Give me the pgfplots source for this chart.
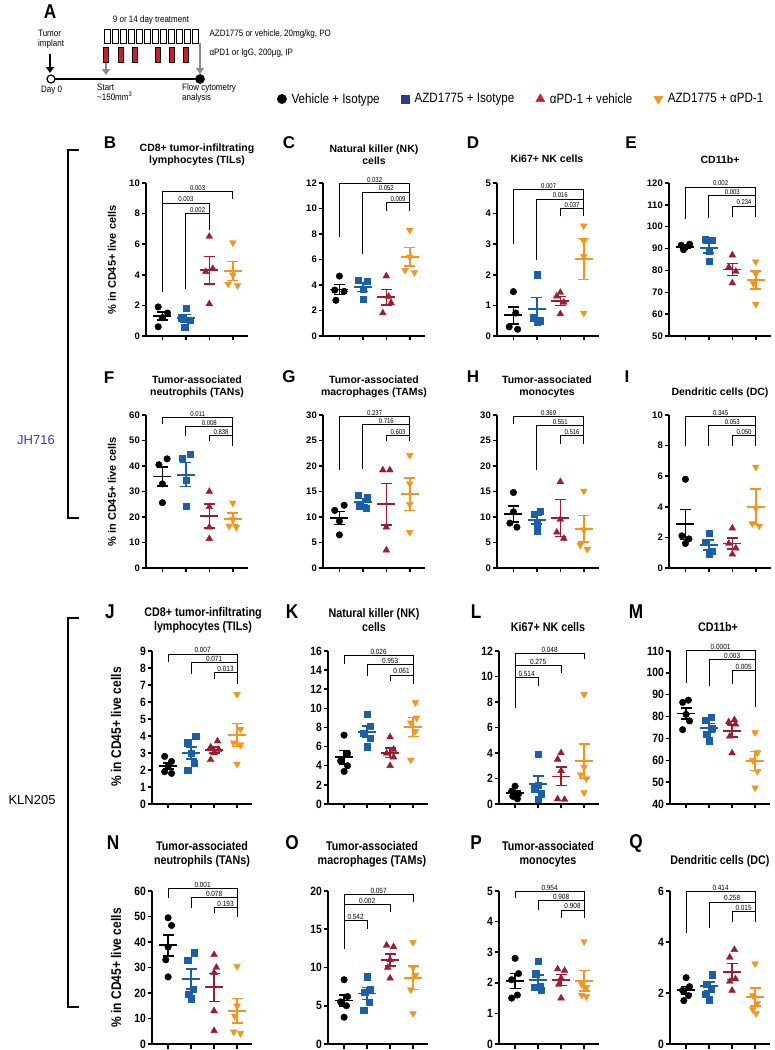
\documentclass[border=0pt]{standalone}
\usepackage{fontspec}
\setmainfont{Liberation Sans}
\newfontfamily\narrowfont[FakeStretch=0.86]{Liberation Sans}
\usepackage{pgfplots}
\pgfplotsset{compat=1.18}
\usetikzlibrary{arrows.meta}

\definecolor{cblu}{HTML}{1B5FA8}
\definecolor{cred}{HTML}{9B1D30}
\definecolor{corg}{HTML}{F6921E}
\definecolor{cnavy}{HTML}{2B3990}
\definecolor{clred}{HTML}{C8202F}
\definecolor{cgray}{HTML}{8A8A8A}
\definecolor{cjh}{HTML}{3A3AA8}

\newcommand{\brkfont}{\narrowfont\fontsize{7}{7}\selectfont}
\newcommand{\brk}[6]{%
  \draw[line width=0.75pt] (axis cs:#1,#4) -- (axis cs:#1,#3) -- (axis cs:#2,#3) -- (axis cs:#2,#5);
  \path (axis cs:#1,#3) -- node[pos=0.5, anchor=south, inner sep=0.7pt, font=\brkfont] {#6} (axis cs:#2,#3);}

\pgfplotsset{
  panel/.style={scale only axis, width=102pt, height=153pt, anchor=south west,
    xmin=0.3, xmax=4.65, xtick={1,2,3,4}, xticklabels={},
    axis x line*=bottom, axis y line*=left,
    axis line style={-, line width=1.7pt},
    tick align=outside, major tick length=4.5pt,
    tick style={line width=1.5pt, black},
    clip=false,
    /pgf/number format/assume math mode=true,
    yticklabel style={font=\bfseries\fontsize{9.5}{10}\selectfont, inner sep=1.5pt}},
  panelk/.style={panel, width=100pt,
    yticklabel style={font=\narrowfont\bfseries\fontsize{12}{12}\selectfont, inner sep=1.5pt}},
  s1/.style={only marks, mark=*, mark size=3.3pt, black, forget plot},
  s2/.style={only marks, mark=square*, mark size=3.1pt, cblu, forget plot},
  s3/.style={only marks, mark=triangle*, mark size=3.9pt, cred, forget plot},
  s4/.style={only marks, mark=triangle*, mark size=3.9pt, corg, mark options={rotate=180}, forget plot},
  ms/.style={#1, only marks, mark=-, mark size=9pt, mark options={line width=1.9pt, #1}, forget plot,
    error bars/.cd, y dir=both, y explicit,
    error bar style={line width=1.6pt, #1},
    error mark options={rotate=90, line width=1.6pt, mark size=5.5pt, #1}},
}

\begin{document}
\begin{tikzpicture}

% ---------------- overlay: panel A, letters, titles, labels ----------------
\begin{axis}[hide axis, scale only axis, width=775pt, height=1050pt, at={(0pt,0pt)}, anchor=south west,
  xmin=0, xmax=775, ymin=0, ymax=1050, y dir=reverse, clip=false]
% timeline
\addplot[black, line width=2.6pt] coordinates {(51,79) (200,79)};
\addplot[only marks, mark=*, mark size=4pt, mark options={fill=white, draw=black, line width=1.2pt}] coordinates {(51,79)};
\addplot[only marks, mark=*, mark size=4.6pt, black] coordinates {(200,79)};
\draw[line width=2.6pt, -{Triangle[length=6pt,width=8pt]}] (axis cs:50,54) -- (axis cs:50,73);
\draw[cgray, line width=2.6pt, -{Triangle[length=6pt,width=8pt]}] (axis cs:106,62) -- (axis cs:106,75);
\draw[cgray, line width=2.6pt, -{Triangle[length=6pt,width=8pt]}] (axis cs:200,43) -- (axis cs:200,74);
% treatment boxes
\draw[line width=0.6pt] (axis cs:104,29) rectangle (axis cs:110.2,43);
\draw[line width=0.6pt] (axis cs:112,29) rectangle (axis cs:118.2,43);
\draw[line width=0.6pt] (axis cs:120,29) rectangle (axis cs:126.2,43);
\draw[line width=0.6pt] (axis cs:128,29) rectangle (axis cs:134.2,43);
\draw[line width=0.6pt] (axis cs:136,29) rectangle (axis cs:142.2,43);
\draw[line width=0.6pt] (axis cs:144,29) rectangle (axis cs:150.2,43);
\draw[line width=0.6pt] (axis cs:152,29) rectangle (axis cs:158.2,43);
\draw[line width=0.6pt] (axis cs:160,29) rectangle (axis cs:166.2,43);
\draw[line width=0.6pt] (axis cs:168,29) rectangle (axis cs:174.2,43);
\draw[line width=0.6pt] (axis cs:176,29) rectangle (axis cs:182.2,43);
\draw[line width=0.6pt] (axis cs:184,29) rectangle (axis cs:190.2,43);
\draw[line width=0.6pt] (axis cs:192,29) rectangle (axis cs:198.2,43);
\draw[fill=clred, line width=0.5pt] (axis cs:103.5,47) rectangle (axis cs:108.5,62);
\draw[fill=clred, line width=0.5pt] (axis cs:118.5,47) rectangle (axis cs:123.5,62);
\draw[fill=clred, line width=0.5pt] (axis cs:132.5,47) rectangle (axis cs:137.5,62);
\draw[fill=clred, line width=0.5pt] (axis cs:155,47) rectangle (axis cs:160,62);
\draw[fill=clred, line width=0.5pt] (axis cs:169,47) rectangle (axis cs:174,62);
\draw[fill=clred, line width=0.5pt] (axis cs:183.5,47) rectangle (axis cs:188.5,62);
% panel A text
\node[font=\narrowfont\bfseries\fontsize{20}{20}\selectfont] at (axis cs:50,12) {A};
\node[font=\narrowfont\fontsize{9.3}{10}\selectfont] at (axis cs:151,20) {9 or 14 day treatment};
\node[font=\narrowfont\fontsize{9.3}{10}\selectfont, anchor=west] at (axis cs:206,34) {AZD1775 or vehicle, 20mg/kg, PO};
\node[font=\narrowfont\fontsize{9.3}{10}\selectfont, anchor=west] at (axis cs:206,53) {αPD1 or IgG, 200μg, IP};
\node[font=\narrowfont\fontsize{9.3}{10}\selectfont, anchor=north west, align=left, inner sep=0pt] at (axis cs:38,30) {Tumor\\implant};
\node[font=\narrowfont\fontsize{9.3}{10}\selectfont, anchor=west, inner sep=0pt] at (axis cs:41,90) {Day 0};
\node[font=\narrowfont\fontsize{9.3}{10}\selectfont, anchor=north west, align=left, inner sep=0pt] at (axis cs:97,84) {Start\\\textasciitilde150mm\textsuperscript{3}};
\node[font=\narrowfont\fontsize{9.3}{10}\selectfont, anchor=north west, align=left, inner sep=0pt] at (axis cs:182,84) {Flow cytometry\\analysis};
% panel letters
\node[font=\bfseries\fontsize{17}{17}\selectfont] at (axis cs:110,143) {B};
\node[font=\bfseries\fontsize{17}{17}\selectfont] at (axis cs:289,143) {C};
\node[font=\bfseries\fontsize{17}{17}\selectfont] at (axis cs:473,143) {D};
\node[font=\bfseries\fontsize{17}{17}\selectfont] at (axis cs:631,143) {E};
\node[font=\bfseries\fontsize{17}{17}\selectfont] at (axis cs:109,378) {F};
\node[font=\bfseries\fontsize{17}{17}\selectfont] at (axis cs:289,377) {G};
\node[font=\bfseries\fontsize{17}{17}\selectfont] at (axis cs:473,377) {H};
\node[font=\bfseries\fontsize{17}{17}\selectfont] at (axis cs:627,377) {I};
\node[font=\narrowfont\bfseries\fontsize{20}{20}\selectfont] at (axis cs:110,612) {J};
\node[font=\narrowfont\bfseries\fontsize{20}{20}\selectfont] at (axis cs:292,612) {K};
\node[font=\narrowfont\bfseries\fontsize{20}{20}\selectfont] at (axis cs:476,612) {L};
\node[font=\narrowfont\bfseries\fontsize{20}{20}\selectfont] at (axis cs:636,612) {M};
\node[font=\narrowfont\bfseries\fontsize{20}{20}\selectfont] at (axis cs:113,843) {N};
\node[font=\narrowfont\bfseries\fontsize{20}{20}\selectfont] at (axis cs:292,843) {O};
\node[font=\narrowfont\bfseries\fontsize{20}{20}\selectfont] at (axis cs:476,843) {P};
\node[font=\narrowfont\bfseries\fontsize{20}{20}\selectfont] at (axis cs:636,843) {Q};
% titles rows 1-2
\node[font=\bfseries\fontsize{10.5}{12}\selectfont, align=center] at (axis cs:197,155) {CD8+ tumor-infiltrating\\lymphocytes (TILs)};
\node[font=\bfseries\fontsize{10.5}{12}\selectfont, align=center] at (axis cs:374,155) {Natural killer (NK)\\cells};
\node[font=\bfseries\fontsize{10.5}{12}\selectfont, align=center] at (axis cs:547,159) {Ki67+ NK cells};
\node[font=\bfseries\fontsize{10.5}{12}\selectfont, align=center] at (axis cs:720,160) {CD11b+};
\node[font=\bfseries\fontsize{10.5}{12}\selectfont, align=center] at (axis cs:197,387) {Tumor-associated\\neutrophils (TANs)};
\node[font=\bfseries\fontsize{10.5}{12}\selectfont, align=center] at (axis cs:374,387) {Tumor-associated\\macrophages (TAMs)};
\node[font=\bfseries\fontsize{10.5}{12}\selectfont, align=center] at (axis cs:547,387) {Tumor-associated\\monocytes};
\node[font=\bfseries\fontsize{10.5}{12}\selectfont, align=center] at (axis cs:720,393) {Dendritic cells (DC)};
% titles rows 3-4
\node[font=\narrowfont\bfseries\fontsize{12.5}{14}\selectfont, align=center] at (axis cs:203,620) {CD8+ tumor-infiltrating\\lymphocytes (TILs)};
\node[font=\narrowfont\bfseries\fontsize{12.5}{14}\selectfont, align=center] at (axis cs:374,620) {Natural killer (NK)\\cells};
\node[font=\narrowfont\bfseries\fontsize{12.5}{14}\selectfont, align=center] at (axis cs:548,627) {Ki67+ NK cells};
\node[font=\narrowfont\bfseries\fontsize{12.5}{14}\selectfont, align=center] at (axis cs:718,627) {CD11b+};
\node[font=\narrowfont\bfseries\fontsize{12.5}{14}\selectfont, align=center] at (axis cs:202,854) {Tumor-associated\\neutrophils (TANs)};
\node[font=\narrowfont\bfseries\fontsize{12.5}{14}\selectfont, align=center] at (axis cs:372,854) {Tumor-associated\\macrophages (TAMs)};
\node[font=\narrowfont\bfseries\fontsize{12.5}{14}\selectfont, align=center] at (axis cs:548,854) {Tumor-associated\\monocytes};
\node[font=\narrowfont\bfseries\fontsize{12.5}{14}\selectfont, align=center] at (axis cs:720,861) {Dendritic cells (DC)};
% y labels
\node[rotate=90, font=\bfseries\fontsize{11}{11}\selectfont] at (axis cs:112,260) {\% in CD45+ live cells};
\node[rotate=90, font=\bfseries\fontsize{11}{11}\selectfont] at (axis cs:112,492) {\% in CD45+ live cells};
\node[rotate=90, font=\narrowfont\bfseries\fontsize{14}{14}\selectfont] at (axis cs:116,727) {\% in CD45+ live cells};
\node[rotate=90, font=\narrowfont\bfseries\fontsize{14}{14}\selectfont] at (axis cs:116,968) {\% in CD45+ live cells};
% group brackets
\draw[line width=1.8pt] (axis cs:79,150) -- (axis cs:68,150) -- (axis cs:68,518) -- (axis cs:79,518);
\draw[line width=1.8pt] (axis cs:79,618) -- (axis cs:68,618) -- (axis cs:68,1007) -- (axis cs:79,1007);
\node[font=\fontsize{13}{13}\selectfont, text=cjh] at (axis cs:36,440) {JH716};
\node[font=\fontsize{13}{13}\selectfont] at (axis cs:32,800) {KLN205};
\end{axis}

% ---------------- B ----------------
\begin{axis}[panel, at={(146pt,714pt)}, ymin=0, ymax=10, ytick={0,2,...,10},
  legend columns=4,
  legend style={at={(1.255,1.549)}, anchor=west, draw=none, fill=none,
    font=\narrowfont\fontsize{13.5}{14}\selectfont,
    /tikz/every odd column/.append style={column sep=3pt},
    /tikz/every even column/.append style={column sep=19.5pt}}]
\addplot[s1] coordinates {(0.82,1.9) (1.22,1.5) (1.0,1.2) (0.82,0.6)};
\addplot[s2] coordinates {(2.0,1.8) (1.8,1.2) (2.2,1.05) (1.95,0.6)};
\addplot[s3] coordinates {(3,6.5) (3.15,4.4) (2.85,4.2) (3,2.1)};
\addplot[s4] coordinates {(4,6.1) (4,4.0) (3.8,3.4) (4.2,3.3)};
\addplot[ms=black] coordinates {(1,1.3) +- (0,0.27)};
\addplot[ms=cblu] coordinates {(2,1.15) +- (0,0.25)};
\addplot[ms=cred] coordinates {(3,4.3) +- (0,0.9)};
\addplot[ms=corg] coordinates {(4,4.25) +- (0,0.63)};
\brk{1}{4}{9.43}{2.9}{8.95}{0.003}
\brk{1}{3}{8.7}{2.9}{6.9}{0.003}
\brk{2}{3}{8.0}{3.1}{6.9}{0.002}
\addlegendimage{only marks, mark=*, mark size=4.7pt, black}
\addlegendentry{Vehicle + Isotype}
\addlegendimage{only marks, mark=square*, mark size=4.2pt, cnavy}
\addlegendentry{AZD1775 + Isotype}
\addlegendimage{only marks, mark=triangle*, mark size=5.2pt, clred}
\addlegendentry{αPD-1 + vehicle}
\addlegendimage{only marks, mark=triangle*, mark size=5.2pt, corg, mark options={rotate=180}}
\addlegendentry{AZD1775 + αPD-1}
\end{axis}

% ---------------- C ----------------
\begin{axis}[panel, at={(323pt,714pt)}, ymin=0, ymax=12, ytick={0,2,...,12}]
\addplot[s1] coordinates {(1,4.7) (0.8,3.6) (1.2,3.5) (0.85,2.8)};
\addplot[s2] coordinates {(1.8,4.4) (2.2,4.3) (2,3.7) (2,2.9)};
\addplot[s3] coordinates {(3,4.7) (3.1,3.1) (3.2,2.6) (2.85,1.8)};
\addplot[s4] coordinates {(4,8.3) (4,6.2) (3.8,5.15) (4.2,5.0)};
\addplot[ms=black] coordinates {(1,3.65) +- (0,0.4)};
\addplot[ms=cblu] coordinates {(2,3.83) +- (0,0.35)};
\addplot[ms=cred] coordinates {(3,3.05) +- (0,0.6)};
\addplot[ms=corg] coordinates {(4,6.22) +- (0,0.73)};
\brk{1}{4}{12.0}{7.75}{9.8}{0.032}
\brk{2}{4}{11.3}{6.45}{9.8}{0.052}
\brk{3}{4}{10.5}{9.8}{9.8}{0.009}
\end{axis}

% ---------------- D ----------------
\begin{axis}[panel, at={(497pt,714pt)}, ymin=0, ymax=5, ytick={0,1,...,5}]
\addplot[s1] coordinates {(1,1.45) (1.1,0.75) (0.82,0.3) (1.18,0.22)};
\addplot[s2] coordinates {(2,2.0) (1.85,0.6) (2.15,0.5) (2,0.45)};
\addplot[s3] coordinates {(3,1.42) (2.85,1.3) (3.15,1.1) (3,0.72)};
\addplot[s4] coordinates {(4,3.6) (4,3.1) (4,2.6) (4,0.75)};
\addplot[ms=black] coordinates {(1,0.675) +- (0,0.28)};
\addplot[ms=cblu] coordinates {(2,0.89) +- (0,0.37)};
\addplot[ms=cred] coordinates {(3,1.14) +- (0,0.15)};
\addplot[ms=corg] coordinates {(4,2.51) +- (0,0.67)};
\brk{1}{4}{4.78}{3.0}{3.91}{0.007}
\brk{2}{4}{4.48}{2.48}{3.91}{0.016}
\brk{3}{4}{4.18}{3.91}{3.91}{0.037}
\end{axis}

% ---------------- E ----------------
\begin{axis}[panel, at={(669pt,714pt)}, ymin=50, ymax=120, ytick={50,60,...,120}]
\addplot[s1] coordinates {(0.82,91.5) (1.0,90.5) (1.18,92) (0.92,89.5)};
\addplot[s2] coordinates {(1.85,94.2) (2.15,94.0) (2,89) (2,84.2)};
\addplot[s3] coordinates {(3,87) (2.85,81.5) (3.15,79.5) (3,74.2)};
\addplot[s4] coordinates {(4,84) (4,78.5) (3.9,74) (4,64.6)};
\addplot[ms=black] coordinates {(1,90.8) +- (0,0.5)};
\addplot[ms=cblu] coordinates {(2,90.25) +- (0,2.4)};
\addplot[ms=cred] coordinates {(3,80.4) +- (0,2.7)};
\addplot[ms=corg] coordinates {(4,75.5) +- (0,4.1)};
\brk{1}{4}{118.2}{103.4}{104.6}{0.002}
\brk{2}{4}{114.2}{103.8}{104.6}{0.003}
\brk{3}{4}{109.5}{104.6}{104.6}{0.234}
\end{axis}

% ---------------- F ----------------
\begin{axis}[panel, at={(146pt,482pt)}, ymin=0, ymax=60, ytick={0,10,...,60}]
\addplot[s1] coordinates {(0.85,40.5) (1.2,42.8) (1,33) (1,25.6)};
\addplot[s2] coordinates {(1.85,43) (2.2,44.6) (2,34.5) (2,24.2)};
\addplot[s3] coordinates {(3,30) (3,24) (3,16) (3,11.5)};
\addplot[s4] coordinates {(4,25.5) (4,19) (3.85,16.5) (4.15,16)};
\addplot[ms=black] coordinates {(1,35.9) +- (0,3.8)};
\addplot[ms=cblu] coordinates {(2,36.6) +- (0,4.7)};
\addplot[ms=cred] coordinates {(3,20.45) +- (0,4.75)};
\addplot[ms=corg] coordinates {(4,19.25) +- (0,2.2)};
\brk{1}{4}{59.0}{56.3}{48.0}{0.011}
\brk{2}{4}{55.6}{51.6}{48.0}{0.008}
\brk{3}{4}{51.9}{49.8}{48.0}{0.838}
\end{axis}

% ---------------- G ----------------
\begin{axis}[panel, at={(323pt,482pt)}, ymin=0, ymax=30, ytick={0,5,...,30}]
\addplot[s1] coordinates {(0.8,11.3) (1.2,12.3) (1,9.2) (1,6.5)};
\addplot[s2] coordinates {(1.8,14.2) (2.2,13.8) (1.85,12.2) (2.15,11.7)};
\addplot[s3] coordinates {(2.85,19.2) (3.15,19.2) (3,8.0) (3,3.5)};
\addplot[s4] coordinates {(4,22.1) (4,16.5) (4,12.5) (4,7.0)};
\addplot[ms=black] coordinates {(1,9.8) +- (0,1.27)};
\addplot[ms=cblu] coordinates {(2,13.0) +- (0,0.6)};
\addplot[ms=cred] coordinates {(3,12.5) +- (0,4.1)};
\addplot[ms=corg] coordinates {(4,14.5) +- (0,3.2)};
\brk{1}{4}{29.8}{19.3}{24.9}{0.237}
\brk{2}{4}{28.1}{19.5}{24.9}{0.716}
\brk{3}{4}{26.0}{24.9}{24.9}{0.603}
\end{axis}

% ---------------- H ----------------
\begin{axis}[panel, at={(497pt,482pt)}, ymin=0, ymax=30, ytick={0,5,...,30}]
\addplot[s1] coordinates {(1,14.8) (1,11) (0.85,8.8) (1.15,8.0)};
\addplot[s2] coordinates {(2.15,11.2) (1.9,10.5) (2,8.8) (2,7.3)};
\addplot[s3] coordinates {(3,16.9) (3,9.5) (2.85,7.0) (3.15,5.8)};
\addplot[s4] coordinates {(4,15.1) (4,7.5) (3.85,4.5) (4.15,3.7)};
\addplot[ms=black] coordinates {(1,10.6) +- (0,1.6)};
\addplot[ms=cblu] coordinates {(2,9.45) +- (0,0.87)};
\addplot[ms=cred] coordinates {(3,9.8) +- (0,3.6)};
\addplot[ms=corg] coordinates {(4,7.7) +- (0,2.6)};
\brk{1}{4}{29.7}{28.2}{24.4}{0.369}
\brk{2}{4}{28.0}{19.3}{24.4}{0.551}
\brk{3}{4}{26.0}{24.4}{24.4}{0.516}
\end{axis}

% ---------------- I ----------------
\begin{axis}[panel, at={(669pt,482pt)}, ymin=0, ymax=10, ytick={0,2,...,10}]
\addplot[s1] coordinates {(1,5.8) (0.85,2.1) (1.15,1.9) (1,1.6)};
\addplot[s2] coordinates {(2,2.3) (1.85,1.7) (2.15,1.1) (2,0.9)};
\addplot[s3] coordinates {(3,2.6) (2.85,1.6) (3.15,1.3) (3,0.9)};
\addplot[s4] coordinates {(4,6.6) (4,3.9) (3.85,2.9) (4.15,2.75)};
\addplot[ms=black] coordinates {(1,2.85) +- (0,0.98)};
\addplot[ms=cblu] coordinates {(2,1.5) +- (0,0.32)};
\addplot[ms=cred] coordinates {(3,1.6) +- (0,0.36)};
\addplot[ms=corg] coordinates {(4,4.0) +- (0,1.15)};
\brk{1}{4}{9.9}{7.95}{8.0}{0.345}
\brk{2}{4}{9.3}{8.0}{8.0}{0.053}
\brk{3}{4}{8.65}{8.0}{8.0}{0.050}
\end{axis}

\renewcommand{\brkfont}{\narrowfont\fontsize{7.5}{7.5}\selectfont}

% ---------------- J ----------------
\begin{axis}[panelk, at={(152pt,246pt)}, ymin=0, ymax=9, ytick={0,1,...,9}]
\addplot[s1] coordinates {(0.85,2.8) (1.15,2.5) (1,2.2) (0.85,1.9) (1.15,1.8)};
\addplot[s2] coordinates {(2.2,4.0) (1.85,3.6) (2,3.0) (2.15,2.4) (1.85,2.0)};
\addplot[s3] coordinates {(3.15,3.7) (2.85,3.35) (3.2,3.2) (3,3.0) (2.85,2.6)};
\addplot[s4] coordinates {(4,6.45) (4.15,4.4) (3.85,3.6) (4.15,3.5) (4,2.35)};
\addplot[ms=black] coordinates {(1,2.24) +- (0,0.18)};
\addplot[ms=cblu] coordinates {(2,3.0) +- (0,0.37)};
\addplot[ms=cred] coordinates {(3,3.17) +- (0,0.18)};
\addplot[ms=corg] coordinates {(4,4.06) +- (0,0.68)};
\brk{1}{4}{8.83}{8.35}{7.05}{0.007}
\brk{2}{4}{8.31}{7.67}{7.05}{0.071}
\brk{3}{4}{7.73}{7.38}{7.05}{0.013}
\end{axis}

% ---------------- K ----------------
\begin{axis}[panelk, at={(328pt,246pt)}, ymin=0, ymax=16, ytick={0,2,...,16}]
\addplot[s1] coordinates {(1,7.2) (1.15,5.3) (0.85,4.5) (1.15,4.0) (1,3.4)};
\addplot[s2] coordinates {(2,9.4) (2.15,8.1) (1.85,7.4) (2.15,6.9) (2,6.0)};
\addplot[s3] coordinates {(3,7.0) (3.15,5.7) (2.85,5.3) (3.15,4.9) (3,4.0)};
\addplot[s4] coordinates {(4.1,10.6) (4.15,9.0) (3.9,8.5) (4.1,7.6) (3.9,4.6)};
\addplot[ms=black] coordinates {(1,4.88) +- (0,0.7)};
\addplot[ms=cblu] coordinates {(2,7.56) +- (0,0.57)};
\addplot[ms=cred] coordinates {(3,5.38) +- (0,0.5)};
\addplot[ms=corg] coordinates {(4,8.06) +- (0,1.0)};
\brk{1}{4}{15.5}{14.65}{12.5}{0.026}
\brk{2}{4}{14.55}{13.4}{12.5}{0.953}
\brk{3}{4}{13.5}{12.9}{12.5}{0.061}
\end{axis}

% ---------------- L ----------------
\begin{axis}[panelk, at={(499pt,246pt)}, ymin=0, ymax=12, ytick={0,2,...,12}]
\addplot[s1] coordinates {(1,1.4) (0.85,1.0) (1.15,0.8) (0.9,0.6) (1.1,0.4)};
\addplot[s2] coordinates {(2,3.9) (2,1.5) (1.85,1.2) (2.15,0.8) (2,0.4)};
\addplot[s3] coordinates {(3,4.0) (2.85,3.5) (3,2.6) (2.85,0.4) (3.15,0.35)};
\addplot[s4] coordinates {(4,8.6) (4,2.9) (3.85,2.3) (4.1,2.0) (4,0.9)};
\addplot[ms=black] coordinates {(1,0.84) +- (0,0.17)};
\addplot[ms=cblu] coordinates {(2,1.56) +- (0,0.62)};
\addplot[ms=cred] coordinates {(3,2.16) +- (0,0.72)};
\addplot[ms=corg] coordinates {(4,3.34) +- (0,1.35)};
\brk{1}{4}{11.8}{7.5}{11.4}{0.048}
\brk{1}{3}{10.9}{7.5}{10.3}{0.275}
\brk{1}{2}{9.9}{7.5}{9.25}{0.514}
\end{axis}

% ---------------- M ----------------
\begin{axis}[panelk, at={(670pt,246pt)}, ymin=40, ymax=110, ytick={40,50,...,110}]
\addplot[s1] coordinates {(1.1,87.5) (0.85,86.5) (1,81) (1.15,78) (0.85,74)};
\addplot[s2] coordinates {(2.1,79.8) (1.85,78.5) (2.15,74.5) (1.9,72) (2,69)};
\addplot[s3] coordinates {(3.1,78.5) (2.85,77.5) (3.15,76.5) (2.9,71) (3,63.3)};
\addplot[s4] coordinates {(4,72.7) (4.1,63.5) (3.9,60) (4.1,55) (4,47.4)};
\addplot[ms=black] coordinates {(1,81.4) +- (0,2.5)};
\addplot[ms=cblu] coordinates {(2,74.76) +- (0,2.0)};
\addplot[ms=cred] coordinates {(3,73.36) +- (0,2.8)};
\addplot[ms=corg] coordinates {(4,59.7) +- (0,4.3)};
\brk{1}{4}{110.3}{95.4}{84.5}{0.0001}
\brk{2}{4}{106.1}{93.9}{84.5}{0.003}
\brk{3}{4}{101.2}{94.8}{84.5}{0.005}
\end{axis}

% ---------------- N ----------------
\begin{axis}[panelk, at={(152pt,6pt)}, ymin=0, ymax=60, ytick={0,10,...,60}]
\addplot[s1] coordinates {(1,49.5) (1.15,46.5) (1,38) (0.9,33) (1,26.3)};
\addplot[s2] coordinates {(2.15,35.8) (1.85,33.0) (2.1,21.5) (1.9,19.5) (2,17.8)};
\addplot[s3] coordinates {(3,35) (3.1,30) (3,28) (3,13) (3,5.2)};
\addplot[s4] coordinates {(4,30.5) (4,15) (3.9,11) (3.85,4.8) (4.15,4.2)};
\addplot[ms=black] coordinates {(1,38.66) +- (0,4.2)};
\addplot[ms=cblu] coordinates {(2,25.5) +- (0,3.9)};
\addplot[ms=cred] coordinates {(3,22.2) +- (0,5.5)};
\addplot[ms=corg] coordinates {(4,13.1) +- (0,4.8)};
\brk{1}{4}{61.1}{57.4}{49.9}{0.001}
\brk{2}{4}{57.4}{53.2}{49.9}{0.078}
\brk{3}{4}{53.7}{51.2}{49.9}{0.193}
\end{axis}

% ---------------- O ----------------
\begin{axis}[panelk, at={(328pt,6pt)}, ymin=0, ymax=20, ytick={0,5,...,20}]
\addplot[s1] coordinates {(1,8.4) (1.15,6.2) (0.85,5.5) (1.1,5.0) (1,3.5)};
\addplot[s2] coordinates {(2,8.8) (2.15,7.2) (1.9,6.8) (2.1,5.5) (1.85,4.4)};
\addplot[s3] coordinates {(2.85,12.9) (3.15,12.7) (3,11.0) (2.9,10.0) (3,8.6)};
\addplot[s4] coordinates {(4,13.3) (4,10.0) (4.1,9.0) (3.9,7.1) (4,4.0)};
\addplot[ms=black] coordinates {(1,5.68) +- (0,0.75)};
\addplot[ms=cblu] coordinates {(2,6.6) +- (0,0.76)};
\addplot[ms=cred] coordinates {(3,11.0) +- (0,0.77)};
\addplot[ms=corg] coordinates {(4,8.68) +- (0,1.55)};
\brk{1}{4}{19.6}{12.45}{18.5}{0.057}
\brk{1}{3}{18.2}{12.45}{17.2}{0.002}
\brk{1}{2}{16.2}{12.45}{15.0}{0.542}
\end{axis}

% ---------------- P ----------------
\begin{axis}[panelk, at={(499pt,6pt)}, ymin=0, ymax=5, ytick={0,1,...,5}]
\addplot[s1] coordinates {(1,2.8) (1.15,2.3) (0.85,2.1) (1.1,1.6) (0.85,1.5)};
\addplot[s2] coordinates {(2,2.7) (1.9,2.3) (2.1,1.9) (1.85,1.85) (2.15,1.75)};
\addplot[s3] coordinates {(2.85,2.45) (3.15,2.4) (3,2.15) (2.9,1.95) (3,1.5)};
\addplot[s4] coordinates {(4,3.35) (3.9,1.95) (4.1,1.85) (3.9,1.6) (4.1,1.55)};
\addplot[ms=black] coordinates {(1,2.06) +- (0,0.24)};
\addplot[ms=cblu] coordinates {(2,2.08) +- (0,0.17)};
\addplot[ms=cred] coordinates {(3,2.09) +- (0,0.18)};
\addplot[ms=corg] coordinates {(4,2.07) +- (0,0.33)};
\brk{1}{4}{5.0}{4.78}{4.13}{0.954}
\brk{2}{4}{4.69}{4.38}{4.13}{0.908}
\brk{3}{4}{4.38}{4.13}{4.13}{0.908}
\end{axis}

% ---------------- Q ----------------
\begin{axis}[panelk, at={(670pt,6pt)}, ymin=0, ymax=6, ytick={0,2,...,6}]
\addplot[s1] coordinates {(1,2.6) (1.15,2.25) (0.85,2.1) (1.1,1.9) (0.9,1.7)};
\addplot[s2] coordinates {(2.15,2.72) (1.9,2.33) (2.1,2.14) (1.85,1.94) (2,1.74)};
\addplot[s3] coordinates {(3.1,3.7) (2.9,3.4) (3.15,2.55) (2.9,2.45) (3,2.1)};
\addplot[s4] coordinates {(4,3.15) (3.9,1.9) (4.1,1.6) (3.9,1.35) (4.05,1.2)};
\addplot[ms=black] coordinates {(1,2.11) +- (0,0.15)};
\addplot[ms=cblu] coordinates {(2,2.27) +- (0,0.17)};
\addplot[ms=cred] coordinates {(3,2.84) +- (0,0.31)};
\addplot[ms=corg] coordinates {(4,1.84) +- (0,0.35)};
\brk{1}{4}{6.0}{4.34}{4.78}{0.414}
\brk{2}{4}{5.57}{4.56}{4.78}{0.258}
\brk{3}{4}{5.19}{4.78}{4.78}{0.015}
\end{axis}

\pgfresetboundingbox
\path[use as bounding box] (0pt,0pt) rectangle (775pt,1050pt);
\end{tikzpicture}
\end{document}
